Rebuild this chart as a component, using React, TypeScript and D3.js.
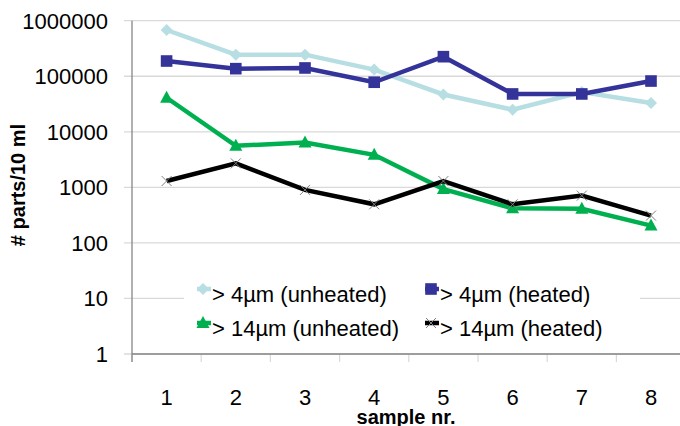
import React from "react";
import * as d3 from "d3";

const samples = ["1", "2", "3", "4", "5", "6", "7", "8"];
const unheated4 = [680000, 245000, 245000, 132000, 47000, 25000, 52000, 33000];
const heated4 = [188000, 137000, 141000, 78000, 225000, 48000, 48000, 82000];
const unheated14 = [41000, 5600, 6400, 3850, 930, 420, 410, 205];
const heated14 = [1300, 2700, 900, 495, 1300, 495, 710, 310];
const yTicks = [1, 10, 100, 1000, 10000, 100000, 1000000];
const seriesNames = ["> 4µm (unheated)", "> 4µm (heated)", "> 14µm (unheated)", "> 14µm (heated)"];

const W = 680, H = 426;
const left = 132, right = 132 + 69.2 * 8, top = 20.7, bottom = 354;

export default function App() {
  const x = d3.scaleBand<string>().domain(samples).range([left, right]);
  const y = d3.scaleLog().domain([1, 1000000]).range([bottom, top]);
  const cx = (s: string) => (x(s) as number) + x.bandwidth() / 2;
  const line = d3.line<number>().x((_, i) => cx(samples[i])).y((v) => y(v));
  const font = "Liberation Sans, Arial, sans-serif";

  const series = [
    { data: unheated4, color: "#B7DEE2", marker: "diamond" },
    { data: heated4, color: "#333399", marker: "square" },
    { data: unheated14, color: "#00B050", marker: "triangle" },
    { data: heated14, color: "#000000", marker: "x" },
  ];

  const drawMarker = (m: string, color: string, px: number, py: number, key: string) => {
    if (m === "diamond") {
      const s = 6;
      return <path key={key} d={`M${px},${py - s}L${px + s},${py}L${px},${py + s}L${px - s},${py}Z`} fill={color} />;
    }
    if (m === "square") {
      const s = 5.8;
      return <rect key={key} x={px - s} y={py - s} width={2 * s} height={2 * s} fill={color} />;
    }
    if (m === "triangle") {
      return <path key={key} d={`M${px},${py - 7}L${px + 6.5},${py + 5}L${px - 6.5},${py + 5}Z`} fill={color} />;
    }
    const s = 5;
    return (
      <path key={key} d={`M${px - s},${py - s}L${px + s},${py + s}M${px + s},${py - s}L${px - s},${py + s}`} stroke="#808080" strokeWidth={1} />
    );
  };

  const legendPos = [
    { x: 197, y: 296 },
    { x: 425, y: 296 },
    { x: 197, y: 330 },
    { x: 425, y: 330 },
  ];

  return (
    <div style={{ position: "fixed", left: 0, top: 0 }}>
      <svg width={W} height={H} style={{ display: "block", background: "#fff" }}>
        {yTicks.map((t) => (
          <g key={t}>
            <line x1={124} x2={W} y1={y(t)} y2={y(t)} stroke="#D9D9D9" strokeWidth={1.3} />
            <text x={108} y={y(t)} dy="0.36em" textAnchor="end" fontFamily={font} fontSize={22} fill="#000">
              {t}
            </text>
          </g>
        ))}
        {d3.range(samples.length + 1).map((i) => (
          <line key={i} x1={left + i * x.bandwidth()} x2={left + i * x.bandwidth()} y1={bottom} y2={362} stroke="#D9D9D9" strokeWidth={1.2} />
        ))}
        <line x1={left} x2={left} y1={top} y2={362} stroke="#868686" strokeWidth={1.3} />
        <line x1={left} x2={W} y1={bottom} y2={bottom} stroke="#868686" strokeWidth={1.3} />
        {samples.map((s) => (
          <text key={s} x={cx(s)} y={405} textAnchor="middle" fontFamily={font} fontSize={22} fill="#000">
            {s}
          </text>
        ))}
        <text x={406} y={424} textAnchor="middle" fontFamily={font} fontSize={20} fontWeight="bold" fill="#000">
          sample nr.
        </text>
        <text transform="translate(25,185) rotate(-90)" textAnchor="middle" fontFamily={font} fontSize={20} fontWeight="bold" fill="#000">
          # parts/10 ml
        </text>
        {series.map((sr, si) => (
          <g key={si}>
            <path d={line(sr.data) as string} fill="none" stroke={sr.color} strokeWidth={4.5} strokeLinejoin="miter" />
            {sr.data.map((v, i) => drawMarker(sr.marker, sr.color, cx(samples[i]), y(v), `${si}-${i}`))}
          </g>
        ))}
        <rect x={184} y={274} width={456} height={72} fill="#fff" />
        {series.map((sr, si) => {
          const p = legendPos[si];
          return (
            <g key={si}>
              <line x1={p.x} x2={p.x + 14} y1={p.y - 7} y2={p.y - 7} stroke={sr.color} strokeWidth={4.5} />
              {drawMarker(sr.marker, sr.color, p.x + 6, p.y - 7, `l${si}`)}
              <text x={p.x + 15} y={p.y + 6} fontFamily={font} fontSize={22} fill="#000">
                {seriesNames[si]}
              </text>
            </g>
          );
        })}
      </svg>
    </div>
  );
}
